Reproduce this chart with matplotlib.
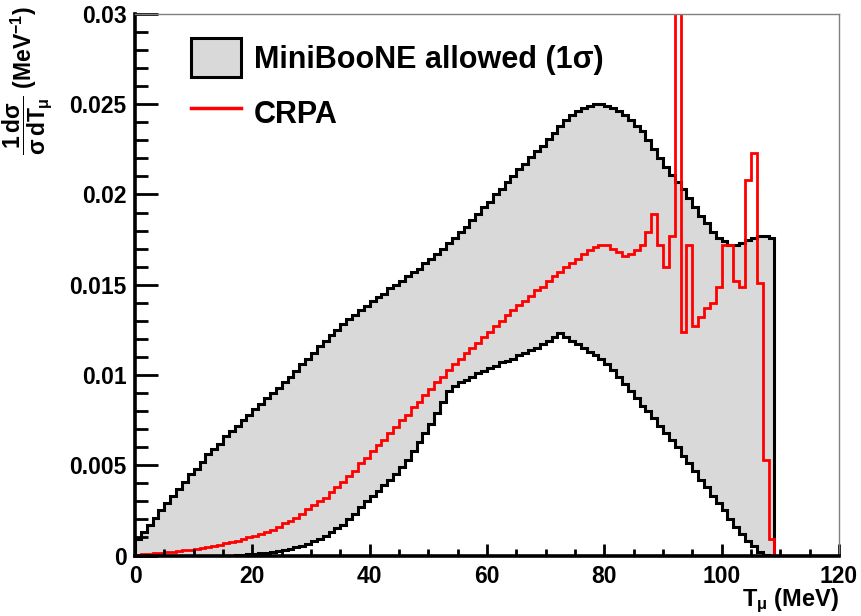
import matplotlib
matplotlib.use('Agg')
import matplotlib.pyplot as plt
from matplotlib.patches import Patch
from matplotlib.lines import Line2D
from matplotlib.ticker import MultipleLocator, FuncFormatter
import numpy as np

plt.rcParams['font.family'] = ['Liberation Sans', 'DejaVu Sans']
plt.rcParams['font.weight'] = 'bold'
plt.rcParams['axes.labelweight'] = 'bold'
plt.rcParams['mathtext.fontset'] = 'custom'
plt.rcParams['mathtext.rm'] = 'Liberation Sans:bold'
plt.rcParams['mathtext.it'] = 'Liberation Sans:bold'
plt.rcParams['mathtext.bf'] = 'Liberation Sans:bold'
plt.rcParams['mathtext.sf'] = 'Liberation Sans:bold'

# MiniBooNE 1 sigma band, 1 MeV bins starting at 0
band_upper = [
    0.0009, 0.0013, 0.0017, 0.0021, 0.0025, 0.0029, 0.0033, 0.0037, 0.0041, 0.0045,
    0.0048, 0.0052, 0.0056, 0.0059, 0.0062, 0.0066, 0.0069, 0.0072, 0.0075, 0.0078,
    0.0081, 0.0084, 0.0087, 0.0090, 0.0093, 0.0096, 0.0099, 0.0102, 0.0106, 0.0109,
    0.0112, 0.0116, 0.0119, 0.0122, 0.0125, 0.0128, 0.0131, 0.0133, 0.0136, 0.0138,
    0.0141, 0.0143, 0.0145, 0.0148, 0.0150, 0.0152, 0.0155, 0.0157, 0.0159, 0.0162,
    0.0164, 0.0167, 0.0170, 0.0173, 0.0176, 0.0179, 0.0182, 0.0186, 0.0189, 0.0193,
    0.0196, 0.0200, 0.0203, 0.0207, 0.0210, 0.0214, 0.0217, 0.0221, 0.0224, 0.0227,
    0.0231, 0.0234, 0.0238, 0.0241, 0.0244, 0.0246, 0.0248, 0.0249, 0.0250, 0.0250,
    0.0249, 0.0248, 0.0246, 0.0244, 0.0241, 0.0238, 0.0235, 0.0230, 0.0225, 0.0220,
    0.0215, 0.0211, 0.0207, 0.0203, 0.0198, 0.0193, 0.0188, 0.0184, 0.0179, 0.0176,
    0.0174, 0.0172, 0.0172, 0.0173, 0.0175, 0.0176, 0.0177, 0.0177, 0.0176,
]
band_lower = [
    0, 0, 0, 0, 0, 0, 0, 0, 0, 0,
    0, 0, 0, 0, 0, 0, 0, 0.00003, 0.00005, 0.00008,
    0.0001, 0.00013, 0.00016, 0.0002, 0.00025, 0.0003, 0.00037, 0.00045, 0.00055, 0.00066,
    0.0008, 0.0009, 0.0011, 0.0013, 0.0015, 0.0017, 0.0020, 0.0023, 0.0027, 0.0030,
    0.0033, 0.0036, 0.0039, 0.0042, 0.0045, 0.0049, 0.0053, 0.0058, 0.0063, 0.0068,
    0.0073, 0.0079, 0.0085, 0.0091, 0.0094, 0.0096, 0.0097, 0.0099, 0.0101, 0.0102,
    0.0104, 0.0105, 0.0107, 0.0108, 0.0109, 0.0111, 0.0112, 0.0114, 0.0115, 0.0117,
    0.0119, 0.0121, 0.0123, 0.0121, 0.0119, 0.0117, 0.0115, 0.0113, 0.0111, 0.0109,
    0.0106, 0.0103, 0.0099, 0.0095, 0.0091, 0.0087, 0.0083, 0.0080, 0.0076, 0.0072,
    0.0068, 0.0064, 0.0060, 0.0055, 0.0051, 0.0047, 0.0042, 0.0038, 0.0033, 0.0029,
    0.0025, 0.0020, 0.0016, 0.0012, 0.0008, 0.0005, 0.0002, 0.00005, 0,
]
# CRPA prediction, 1 MeV bins from 0 to 120
crpa = [
    0.00005, 0.0001, 0.0001, 0.00012, 0.00015, 0.00018, 0.0002, 0.00024, 0.00028, 0.00033,
    0.00038, 0.00043, 0.00048, 0.00054, 0.0006, 0.00067, 0.00074, 0.00082, 0.0009, 0.001,
    0.0011, 0.0012, 0.0013, 0.0014, 0.0016, 0.0018, 0.0019, 0.0021, 0.0023, 0.0026,
    0.0028, 0.0030, 0.0032, 0.0035, 0.0038, 0.0041, 0.0044, 0.0047, 0.0051, 0.0054,
    0.0058, 0.0061, 0.0064, 0.0068, 0.0071, 0.0075, 0.0078, 0.0082, 0.0085, 0.0089,
    0.0092, 0.0096, 0.0099, 0.0103, 0.0106, 0.0109, 0.0112, 0.0115, 0.0118, 0.0121,
    0.0124, 0.0127, 0.0130, 0.0133, 0.0136, 0.0139, 0.0141, 0.0144, 0.0147, 0.0149,
    0.0152, 0.0155, 0.0157, 0.0160, 0.0162, 0.0164, 0.0167, 0.0169, 0.0171, 0.0172,
    0.0172, 0.0170, 0.0168, 0.0166, 0.0167, 0.0169, 0.0172, 0.0179, 0.0189, 0.0172,
    0.0160, 0.0177, 0.0450, 0.0124, 0.0172, 0.0127, 0.0132, 0.0137, 0.0140, 0.0149,
    0.0172, 0.0172, 0.0152, 0.0149, 0.0208, 0.0223, 0.0151, 0.0053, 0.0009, 0,
    0, 0, 0, 0, 0, 0, 0, 0, 0, 0,
]

band_edges = np.arange(len(band_upper) + 1)
crpa_edges = np.arange(len(crpa) + 1)

fig = plt.figure(figsize=(8.61, 6.16), dpi=100)
ax = fig.add_axes([0.1568, 0.0982, 0.8176, 0.8791])

grey = '#d9d9d9'
ax.stairs(band_upper, band_edges, baseline=band_lower, fill=True, color=grey, lw=0)
ax.stairs(band_lower, band_edges, color='black', lw=2.2)
ax.stairs(band_upper, band_edges, color='black', lw=2.2)
ax.stairs(crpa, crpa_edges, color='red', lw=2.0, baseline=None)

ax.set_xlim(0, 120)
ax.set_ylim(0, 0.03)

# ROOT-like frame
for side in ['left', 'bottom']:
    ax.spines[side].set_linewidth(2.6)
for side in ['top', 'right']:
    ax.spines[side].set_linewidth(1.0)
    ax.spines[side].set_color('#808080')

ax.xaxis.set_major_locator(MultipleLocator(20))
ax.xaxis.set_minor_locator(MultipleLocator(5))
ax.yaxis.set_major_locator(MultipleLocator(0.005))
ax.yaxis.set_minor_locator(MultipleLocator(0.001))
ax.yaxis.set_major_formatter(FuncFormatter(lambda v, p: f'{v:g}'))
ax.tick_params(axis='both', which='both', direction='in', width=2.0,
               top=False, right=False, labelsize=16.5)
ax.tick_params(axis='y', which='major', length=16.5, pad=6)
ax.tick_params(axis='y', which='minor', length=9)
ax.tick_params(axis='x', which='major', length=9, pad=7)
ax.tick_params(axis='x', which='minor', length=5)

ax.set_xlabel(r'T$_{\mu}$ (MeV)', fontsize=17, fontweight='bold', loc='right')
ax.xaxis.set_label_coords(1.0, -0.058)
fig.text(27 / 861, 1 - 6 / 616,
         r'$\dfrac{1\,d\sigma}{\sigma\,dT_{\mu}}$ (MeV$^{-1}$)',
         rotation=90, ha='center', va='top', fontsize=16.5, fontweight='bold')

handles = [Patch(facecolor=grey, edgecolor='black', lw=2.2, joinstyle='round'),
           Line2D([], [], color='red', lw=2.5)]
labels = ['MiniBooNE allowed (1σ)', 'CRPA']
ax.legend(handles, labels, loc='upper left', bbox_to_anchor=(0.0795, 0.9557),
          frameon=False, fontsize=22, borderpad=0, borderaxespad=0,
          handlelength=1.65, handleheight=1.6, handletextpad=0.4,
          labelspacing=0.52)

fig.savefig('out.png', dpi=100)
